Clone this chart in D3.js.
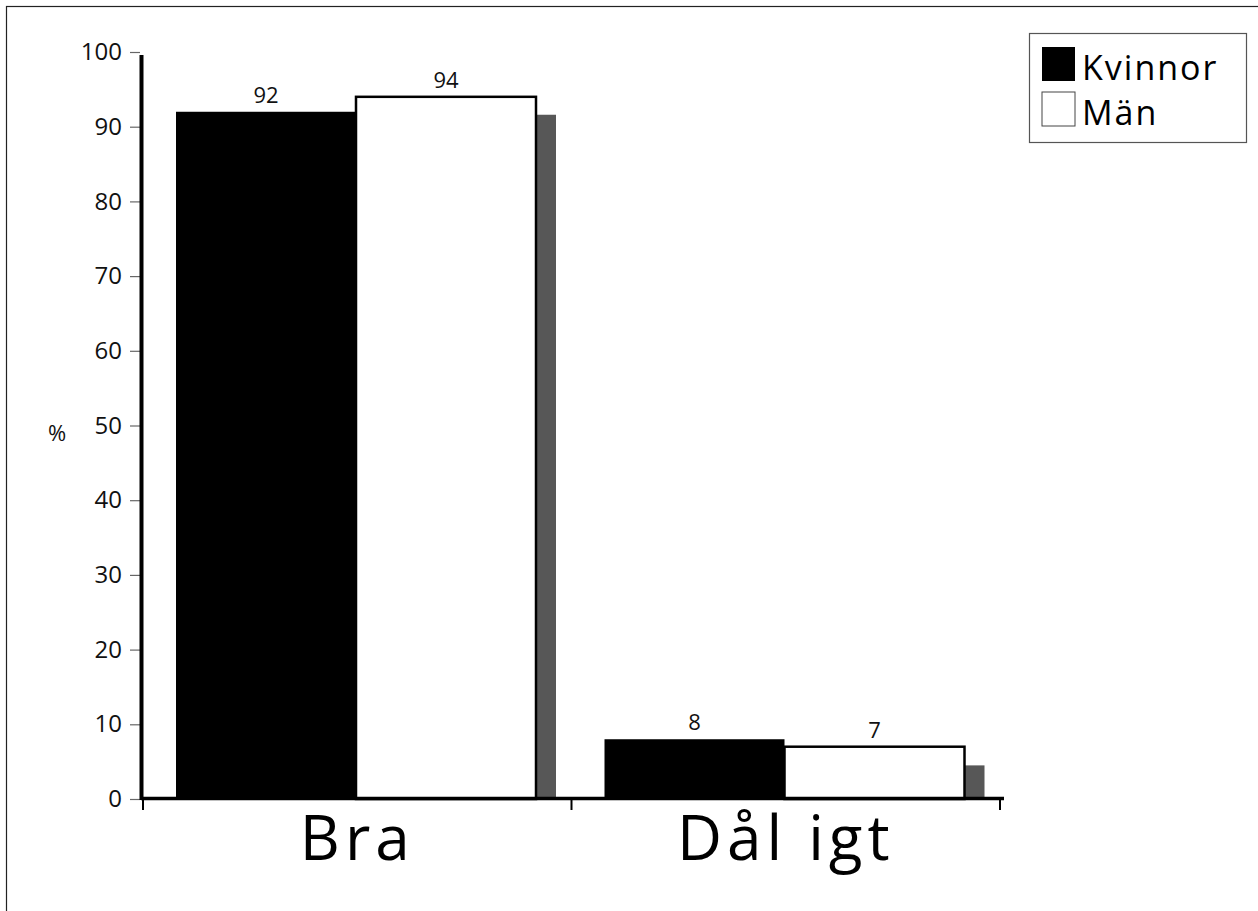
<!DOCTYPE html>
<html><head><meta charset="utf-8">
<script src="https://cdn.jsdelivr.net/npm/d3@7"></script>
<style>body{margin:0;background:#fff}svg{display:block;font-family:"Open Sans","Noto Sans",sans-serif}</style>
</head><body>
<svg id="c" width="1258" height="911"></svg>
<script>
const categories = ["Bra", "Dål igt"];
const series = ["Kvinnor", "Män"];
const kvinnor = [92, 8];
const man = [94, 7];
const shadow = [91.6, 4.5];
const yTicks = [0, 10, 20, 30, 40, 50, 60, 70, 80, 90, 100];

const svg = d3.select("#c");
svg.append("rect").attr("x", 6.5).attr("y", 6.5).attr("width", 1300).attr("height", 1000)
  .attr("fill", "none").attr("stroke", "#222").attr("stroke-width", 1.2);

const y = d3.scaleLinear().domain([0, 100]).range([799, 52]);
const x0 = d3.scaleBand().domain(categories).range([143, 1000]);
const x1 = d3.scaleBand().domain(series).range([33, 393]);
const shadowW = 20;

const data = categories.map((c, i) => ({cat: c, vals: [kvinnor[i], man[i]], sh: shadow[i]}));

// Y axis ticks
const yAxis = d3.axisLeft(y).tickValues(yTicks).tickSize(10).tickPadding(8);
const gy = svg.append("g").attr("transform", "translate(140,0)").call(yAxis);
gy.attr("font-size", 24).attr("font-family", null);
gy.select(".domain").remove();
gy.selectAll(".tick line").attr("stroke", "#666").attr("stroke-width", 1.2);
gy.selectAll(".tick text").attr("fill", "#111");
svg.append("line").attr("x1", 141.5).attr("x2", 141.5).attr("y1", 55).attr("y2", 800)
  .attr("stroke", "#000").attr("stroke-width", 4);

// bars
const g = svg.selectAll(".grp").data(data).join("g").attr("class", "grp")
  .attr("transform", d => `translate(${x0(d.cat)},0)`);
g.append("rect").attr("x", x1.range()[1]).attr("width", shadowW)
  .attr("y", d => y(d.sh)).attr("height", d => y(0) - y(d.sh)).attr("fill", "#575757");
g.selectAll(".bar").data(d => d.vals.map((v, i) => ({s: series[i], v})))
  .join("rect").attr("class", "bar")
  .attr("x", d => x1(d.s)).attr("width", x1.bandwidth())
  .attr("y", d => y(d.v)).attr("height", d => y(0) - y(d.v))
  .attr("fill", d => d.s === "Kvinnor" ? "#000" : "#fff")
  .attr("stroke", d => d.s === "Kvinnor" ? "none" : "#000").attr("stroke-width", 2.5);
g.selectAll(".lab").data(d => d.vals.map((v, i) => ({s: series[i], v})))
  .join("text").attr("class", "lab")
  .attr("x", d => x1(d.s) + x1.bandwidth() / 2).attr("y", d => y(d.v) - 9)
  .attr("text-anchor", "middle").attr("font-size", 22).attr("fill", "#111")
  .text(d => d.v);

// X axis
svg.append("line").attr("x1", 141).attr("x2", 1004).attr("y1", 798.5).attr("y2", 798.5)
  .attr("stroke", "#000").attr("stroke-width", 3.5);
const xAxis = d3.axisBottom(x0).tickSize(0).tickPadding(16);
const gx = svg.append("g").attr("transform", "translate(0,800)").call(xAxis);
gx.attr("font-size", 62).attr("font-family", null);
gx.select(".domain").remove();
gx.selectAll(".tick text").attr("fill", "#000").attr("letter-spacing", 5).attr("dy", "0.71em");
const bounds = [x0.range()[0]].concat(categories.map(c => x0(c) + x0.bandwidth()));
svg.selectAll(".xt").data(bounds).join("line").attr("class", "xt")
  .attr("x1", d => d).attr("x2", d => d).attr("y1", 800).attr("y2", 810)
  .attr("stroke", "#000").attr("stroke-width", 2);

// % label
svg.append("text").attr("x", 57).attr("y", 441).attr("text-anchor", "middle")
  .attr("font-size", 22).attr("fill", "#111").text("%");

// legend
const lg = svg.append("g");
lg.append("rect").attr("x", 1029.5).attr("y", 33.5).attr("width", 217).attr("height", 109)
  .attr("fill", "#fff").attr("stroke", "#555").attr("stroke-width", 1.2);
const legCols = ["#000", "#fff"];
series.forEach((s, i) => {
  lg.append("rect").attr("x", 1042).attr("y", 47 + i * 45).attr("width", 33).attr("height", 34)
    .attr("fill", legCols[i]).attr("stroke", i ? "#444" : "none").attr("stroke-width", 1);
  lg.append("text").attr("x", 1082).attr("y", 80 + i * 45).attr("font-size", 34)
    .attr("letter-spacing", 2).attr("fill", "#000").text(s);
});
</script>
</body></html>
